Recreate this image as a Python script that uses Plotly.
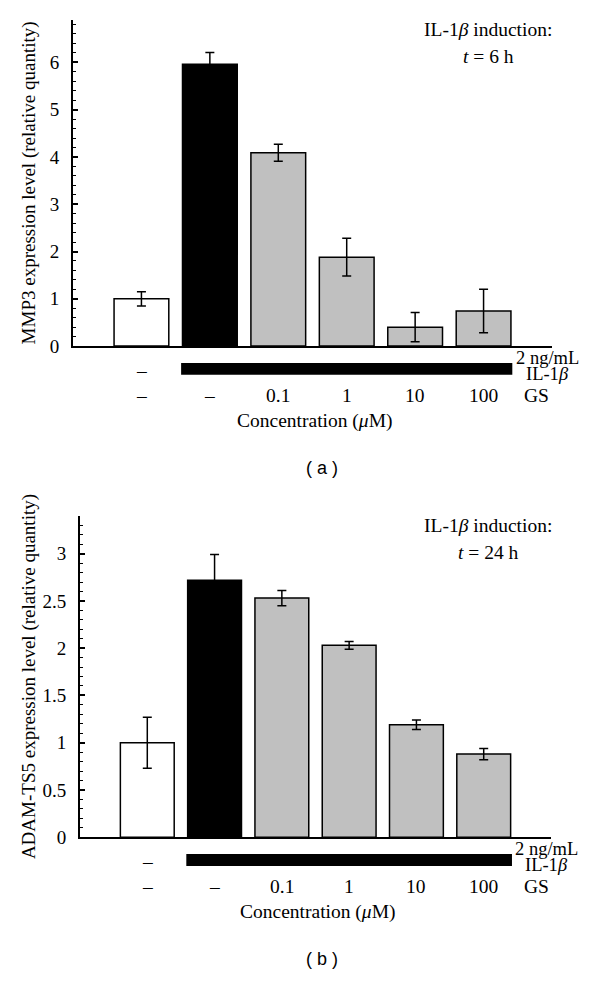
import plotly.graph_objects as go

# ---------------- data ----------------
treatments = ["Control", "IL-1β", "IL-1β + GS 0.1", "IL-1β + GS 1", "IL-1β + GS 10", "IL-1β + GS 100"]
il1b_row = ["–", "", "", "", "", ""]
gs_row = ["–", "–", "0.1", "1", "10", "100"]
bar_colors = ["#ffffff", "#000000", "#c0c0c0", "#c0c0c0", "#c0c0c0", "#c0c0c0"]

mmp3_mean = [1.00, 5.96, 4.09, 1.88, 0.40, 0.74]
mmp3_err = [0.15, 0.25, 0.18, 0.40, 0.31, 0.46]

adamts5_mean = [1.00, 2.72, 2.53, 2.03, 1.19, 0.88]
adamts5_err = [0.27, 0.27, 0.08, 0.04, 0.05, 0.06]

# ---------------- layout constants ----------------
W, H = 600, 983
FONT = "Liberation Serif"
FS = 19.5
XR = [-1, 6]
xs = list(range(len(treatments)))

panels = [
    dict(xa="x", ya="y", xpx=(73, 552), ypx=(20, 350), yr=[0, 6.9], dtick=1, minor=0.2,
         mean=mmp3_mean, err=mmp3_err, standoff=9,
         ytitle="MMP3 expression level (relative quantity)",
         t="<i>t</i> = 6 h", label="( a )", label_y=473),
    dict(xa="x2", ya="y2", xpx=(80, 551), ypx=(521.7, 846.7), yr=[0, 3.4], dtick=0.5, minor=0.1,
         mean=adamts5_mean, err=adamts5_err, standoff=2,
         ytitle="ADAM-TS5 expression level (relative quantity)",
         t="<i>t</i> = 24 h", label="( b )", label_y=970),
]

fig = go.Figure()
annotations = []
shapes = []


def txt(x, y, xref, yref, text, size=FS, family=FONT):
    return dict(x=x, y=y, xref=xref, yref=yref, text=text, showarrow=False,
                xanchor="center", yanchor="middle",
                font=dict(family=family, size=size, color="black"))


for i, p in enumerate(panels):
    fig.add_trace(go.Bar(
        x=xs, y=p["mean"], width=0.8,
        marker=dict(color=bar_colors, line=dict(color="black", width=1.5)),
        error_y=dict(type="data", array=p["err"], symmetric=True, color="black",
                     thickness=1.5, width=4.5),
        xaxis=p["xa"], yaxis=p["ya"], showlegend=False, hoverinfo="x+y",
    ))
    xdom = [p["xpx"][0] / W, p["xpx"][1] / W]
    ydom = [1 - p["ypx"][1] / H, 1 - p["ypx"][0] / H]
    suffix = "" if i == 0 else "2"
    fig.update_layout(**{
        "xaxis" + suffix: dict(domain=xdom, range=XR, showline=True, linecolor="black", linewidth=2,
                               ticks="", showticklabels=False, showgrid=False, zeroline=False,
                               anchor="y" + suffix),
        "yaxis" + suffix: dict(domain=ydom, range=p["yr"], showline=True, linecolor="black", linewidth=2,
                               ticks="inside", ticklen=5, tickwidth=1.5, tickcolor="black",
                               dtick=p["dtick"], showgrid=False, zeroline=False,
                               minor=dict(dtick=p["minor"], ticks="inside", ticklen=3, tickwidth=1,
                                          tickcolor="black", showgrid=False),
                               tickfont=dict(family=FONT, size=19, color="black"),
                               ticklabelstandoff=8,
                               title=dict(text=p["ytitle"], font=dict(family=FONT, size=19, color="black"),
                                          standoff=p["standoff"]),
                               anchor="x" + suffix),
    })

    xa_dom = p["xa"] + " domain"
    ya_dom = p["ya"] + " domain"
    y0px, y1px = p["ypx"][1], p["ypx"][0]
    hpx = y0px - y1px

    def xd(c):
        return (c - XR[0]) / (XR[1] - XR[0])

    def yd(px):
        return (y0px - px) / hpx

    # IL-1β row
    for c, lab in zip(xs, il1b_row):
        if lab:
            annotations.append(txt(xd(c), yd(y0px + 25), xa_dom, ya_dom, lab))
    shapes.append(dict(type="rect", xref=xa_dom, yref=ya_dom, x0=xd(0.58), x1=xd(5.42),
                       y0=yd(y0px + 17), y1=yd(y0px + 29), fillcolor="black", line=dict(width=0)))
    # GS row
    for c, lab in zip(xs, gs_row):
        annotations.append(txt(xd(c), yd(y0px + 50), xa_dom, ya_dom, lab))
    annotations.append(txt(xd(5.78), yd(y0px + 50), xa_dom, ya_dom, "GS"))
    annotations.append(txt(xd(5.94), yd(y0px + 12), xa_dom, ya_dom, "2 ng/mL", size=18.5))
    annotations.append(txt(xd(5.94), yd(y0px + 28), xa_dom, ya_dom, "IL-1<i>β</i>", size=18.5))
    annotations.append(txt(xd(2.53), yd(y0px + 76), xa_dom, ya_dom, "Concentration (<i>μ</i>M)"))
    # induction text
    annotations.append(txt(xd(5.07), yd(y1px + 10), xa_dom, ya_dom, "IL-1<i>β</i> induction:"))
    annotations.append(txt(xd(5.07), yd(y1px + 37), xa_dom, ya_dom, p["t"]))
    # panel label
    annotations.append(txt(321.7 / W, 1 - p["label_y"] / H, "paper", "paper", p["label"],
                           size=18, family="Liberation Sans"))

fig.update_layout(
    width=W, height=H, margin=dict(l=0, r=0, t=0, b=0),
    paper_bgcolor="white", plot_bgcolor="white",
    annotations=annotations, shapes=shapes, bargap=0.2,
    font=dict(family=FONT, color="black"),
)

fig.write_html("out.html", config={"displayModeBar": False},
               post_script="document.body.style.margin='0';")
